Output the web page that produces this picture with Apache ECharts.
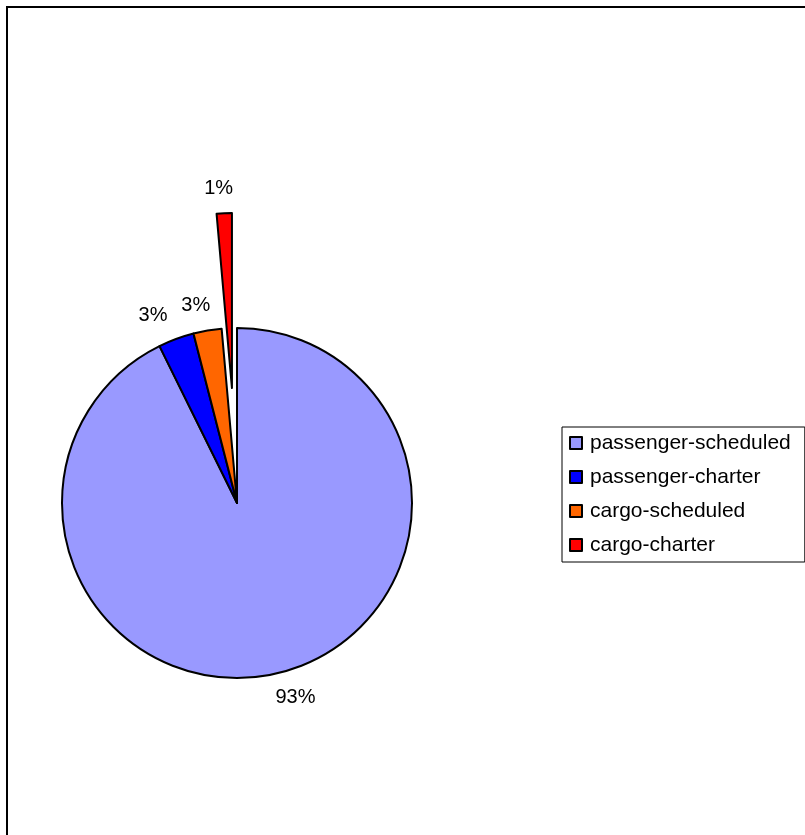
<!DOCTYPE html>
<html>
<head>
<meta charset="utf-8">
<script src="https://cdn.jsdelivr.net/npm/echarts@6/dist/echarts.min.js"></script>
<style>
  html, body { margin: 0; padding: 0; background: #ffffff; }
  #chart { width: 805px; height: 835px; }
</style>
</head>
<body>
<div id="chart"></div>
<script>
const categories = ['passenger-scheduled', 'passenger-charter', 'cargo-scheduled', 'cargo-charter'];
const values = [92.7, 3.3, 2.6, 1.4];
const colors = ['#9999FF', '#0000FF', '#FF6600', '#FF0000'];
const exploded = [false, false, false, true];

const chart = echarts.init(document.getElementById('chart'), null, { renderer: 'canvas' });

const FONT = '"Liberation Sans", Arial, sans-serif';
// small per-slice label nudges to mimic the original label placement
const labelDistance = [-7, 0, -7, -10];

chart.setOption({
  backgroundColor: '#ffffff',
  animation: false,
  graphic: [{
    type: 'rect',
    shape: { x: 7, y: 7, width: 900, height: 900 },
    style: { fill: 'none', stroke: '#000', lineWidth: 2 },
    silent: true,
    z: 100
  }],
  legend: {
    orient: 'vertical',
    left: 562,
    top: 427,
    data: categories,
    icon: 'rect',
    itemWidth: 12,
    itemHeight: 12,
    itemGap: 12,
    padding: [5, 14, 6, 7],
    borderColor: '#000',
    borderWidth: 1,
    itemStyle: { borderColor: '#000', borderWidth: 2 },
    textStyle: { fontFamily: FONT, fontSize: 21, color: '#000', lineHeight: 22, padding: [0, 0, 0, 3] },
    selectedMode: false
  },
  series: [{
    type: 'pie',
    center: [237, 503],
    radius: 175,
    startAngle: 90,
    clockwise: true,
    avoidLabelOverlap: false,
    minShowLabelAngle: 0,
    selectedMode: 'single',
    selectedOffset: 115,
    itemStyle: { borderColor: '#000', borderWidth: 2 },
    label: {
      show: true,
      position: 'outside',
      fontFamily: FONT,
      fontSize: 20,
      color: '#000',
      distanceToLabelLine: 0,
      formatter: p => Math.round(p.percent) + '%'
    },
    labelLine: { show: false, length: 25, length2: 0 },
    labelLayout: { hideOverlap: false },
    select: { label: { show: true }, labelLine: { show: false } },
    emphasis: { disabled: true },
    data: categories.map((c, i) => ({
      name: c,
      value: values[i],
      selected: exploded[i],
      itemStyle: { color: colors[i] },
      label: { distanceToLabelLine: labelDistance[i] }
    }))
  }]
});
</script>
</body>
</html>
